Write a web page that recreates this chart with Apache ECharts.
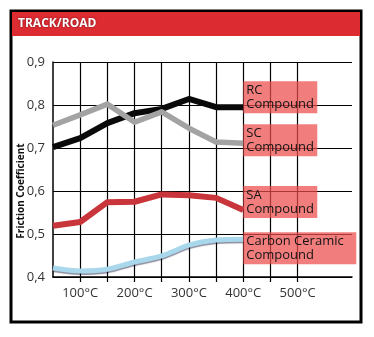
<!DOCTYPE html>
<html>
<head>
<meta charset="utf-8">
<script src="https://cdn.jsdelivr.net/npm/echarts@6/dist/echarts.min.js"></script>
<style>
html,body{margin:0;padding:0;background:#fff;}
#c{width:374px;height:337px;}
</style>
</head>
<body>
<div id="c"></div>
<script>
// Temperature categories (°C), 50..600 step 50
const temps = ['50','100','150','200','250','300','350','400','450','500','550','600'];
// Tick/label values shown on x axis
const tickTemps = ['100','150','200','250','300','350','400','450','500'];
const labelTemps = ['100','200','300','400','500'];
// Friction coefficient series (values at 50..400 °C)
const rcValues = [0.702, 0.723, 0.758, 0.781, 0.791, 0.814, 0.795, 0.795];
const scValues = [0.753, 0.777, 0.802, 0.760, 0.784, 0.746, 0.714, 0.711];
const saValues = [0.519, 0.528, 0.574, 0.575, 0.592, 0.590, 0.584, 0.556];
const ccValues = [0.421, 0.414, 0.418, 0.435, 0.449, 0.474, 0.486, 0.488];
const seriesNames = ['RC\nCompound', 'SC\nCompound', 'SA\nCompound', 'Carbon Ceramic\nCompound'];

const chart = echarts.init(document.getElementById('c'), null, {renderer: 'canvas'});

const labelBase = {
  show: true,
  distance: 0,
  color: '#141414',
  fontFamily: '"Open Sans", sans-serif',
  fontSize: 13,
  lineHeight: 14,
  backgroundColor: 'rgba(235,75,75,0.72)',
  padding: [2, 4, 2, 3],
  align: 'left'
};
function mkLabel(name, dy, width) {
  return Object.assign({}, labelBase, {
    formatter: () => name,
    offset: [0, dy],
    width: width
  });
}

const FONT = '"Open Sans", sans-serif';

chart.setOption({
  animation: false,
  backgroundColor: '#fff',
  grid: {left: 53, right: 22, top: 62, bottom: 60, containLabel: false},
  xAxis: {
    type: 'category',
    data: temps,
    boundaryGap: false,
    axisLine: {show: true, lineStyle: {color: '#000', width: 1.5}},
    axisTick: {
      show: true, length: 5,
      lineStyle: {color: '#000', width: 1.2},
      interval: (i, v) => tickTemps.includes(v)
    },
    axisLabel: {
      interval: (i, v) => labelTemps.includes(v),
      formatter: v => v + '°C',
      color: '#333', fontSize: 13, fontFamily: FONT, margin: 10
    },
    splitLine: {
      show: true,
      interval: (i, v) => tickTemps.includes(v),
      lineStyle: {color: '#000', width: 1.2}
    }
  },
  yAxis: {
    type: 'value',
    min: 0.4, max: 0.9, interval: 0.1,
    axisLine: {show: true, lineStyle: {color: '#000', width: 1.5}},
    axisTick: {show: false},
    axisLabel: {
      formatter: v => v.toFixed(1).replace('.', ','),
      color: '#333', fontSize: 13, fontFamily: FONT, margin: 8
    },
    splitLine: {show: true, lineStyle: {color: '#000', width: 1.2}}
  },
  graphic: [
    {type: 'rect', shape: {x: 11, y: 11, width: 350, height: 311},
     style: {fill: 'none', stroke: '#000', lineWidth: 3}, z: 0},
    {type: 'rect', shape: {x: 12, y: 12, width: 348, height: 24},
     style: {fill: '#dd2b32'}, z: 1},
    {type: 'text', x: 18, y: 24,
     style: {text: 'TRACK/ROAD', fill: '#fff', font: 'bold 12px "Open Sans", sans-serif',
       textVerticalAlign: 'middle', textShadowColor: 'rgba(0,0,0,0.5)', textShadowBlur: 2},
     z: 2},
    {type: 'text', x: 21, y: 191, rotation: Math.PI / 2,
     style: {text: 'Friction Coefficient', fill: '#111', font: 'bold 10px "Open Sans", sans-serif',
       textAlign: 'center', textVerticalAlign: 'middle'},
     z: 2}
  ],
  series: [
    {
      name: 'RC', type: 'line', data: rcValues, symbol: 'none',
      lineStyle: {color: '#0a0a0a', width: 6, join: 'round'},
      endLabel: mkLabel(seriesNames[0], -10, 67)
    },
    {
      name: 'SC', type: 'line', data: scValues, symbol: 'none',
      lineStyle: {color: '#a3a3a3', width: 5.5, join: 'round'},
      endLabel: mkLabel(seriesNames[1], -3, 67)
    },
    {
      name: 'SA', type: 'line', data: saValues, symbol: 'none',
      lineStyle: {color: '#c8353a', width: 6, join: 'round'},
      endLabel: mkLabel(seriesNames[2], -8, 67)
    },
    {
      name: 'CC', type: 'line', data: ccValues, symbol: 'none', smooth: 0.3,
      lineStyle: {color: '#a9d8ec', width: 5, join: 'round',
        shadowColor: 'rgba(0,0,40,0.45)', shadowBlur: 1, shadowOffsetY: 1.5},
      endLabel: mkLabel(seriesNames[3], 9, 106)
    }
  ]
});
</script>
</body>
</html>
